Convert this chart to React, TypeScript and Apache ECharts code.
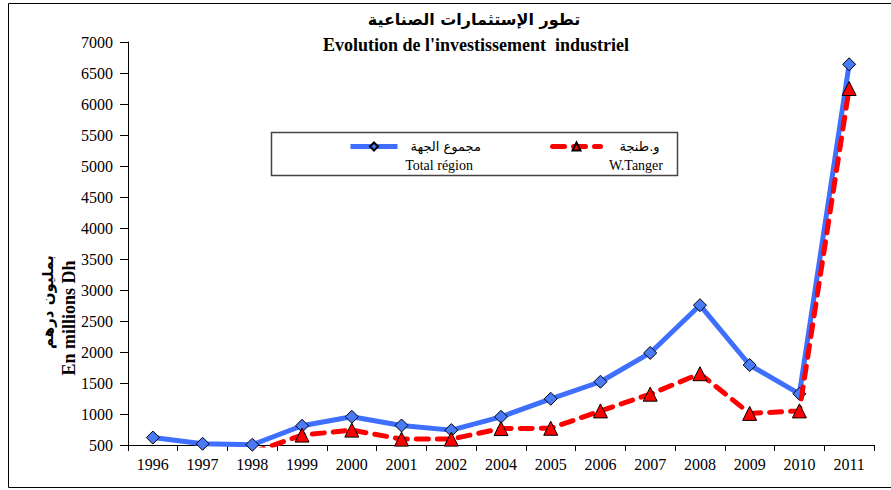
import React, { useEffect, useRef } from "react";
import * as echarts from "echarts";

const categories = ["1996", "1997", "1998", "1999", "2000", "2001", "2002", "2004", "2005", "2006", "2007", "2008", "2009", "2010", "2011"];
const totalRegion = [620, 520, 505, 810, 955, 815, 740, 955, 1245, 1520, 1985, 2755, 1790, 1325, 6640];
const wTanger = [null, null, 380, 660, 740, 595, 595, 765, 770, 1050, 1320, 1650, 1010, 1050, 6250];
const seriesNamesAr = ["مجموع الجهة", "و.طنجة"];
const seriesNamesFr = ["Total région", "W.Tanger"];
const titleAr = "تطور الإستثمارات الصناعية";
const titleFr = "Evolution de l'investissement  industriel";
const yNameAr = "بمليون درهم";
const yNameFr = "En millions Dh";

const BLUE = "#3F6FFF";
const RED = "#FF0000";
const SERIF = "'Liberation Serif', 'DejaVu Serif', serif";
const ARABIC = "'DejaVu Sans', 'Noto Sans', sans-serif";

export default function App() {
  const ref = useRef<HTMLDivElement>(null);
  useEffect(() => {
    document.body.style.margin = "0";
    const chart = echarts.init(ref.current!, null, { renderer: "svg" });
    const option: any = {
      animation: false,
      backgroundColor: "#ffffff",
      grid: { left: 128, right: 17, top: 42, bottom: 45, containLabel: false },
      xAxis: {
        type: "category",
        data: categories,
        boundaryGap: true,
        axisLine: { lineStyle: { color: "#000", width: 1 } },
        axisTick: { show: true, length: 6, lineStyle: { color: "#000" } },
        axisLabel: { color: "#000", fontSize: 16, fontFamily: SERIF, margin: 11 },
        splitLine: { show: false },
      },
      yAxis: {
        type: "value",
        min: 500,
        max: 7000,
        interval: 500,
        axisLine: { show: true, lineStyle: { color: "#000", width: 1 } },
        axisTick: { show: true, length: 8, lineStyle: { color: "#000" } },
        axisLabel: { color: "#000", fontSize: 16, fontFamily: SERIF, margin: 15, formatter: (v: number) => String(v) },
        splitLine: { show: false },
      },
      legend: [
        {
          data: [seriesNamesAr[0]],
          left: 348,
          top: 140,
          itemWidth: 47,
          itemHeight: 10,
          padding: 0,
          lineStyle: { width: 5 },
          textStyle: { fontSize: 13, fontFamily: ARABIC, color: "#000", padding: [0, 0, 0, 8] },
        },
        {
          data: [seriesNamesAr[1]],
          left: 550,
          top: 140,
          itemWidth: 48,
          itemHeight: 10,
          padding: 0,
          lineStyle: { width: 5 },
          textStyle: { fontSize: 13, fontFamily: ARABIC, color: "#000", padding: [0, 0, 0, 14] },
        },
      ],
      graphic: [
        {
          type: "rect",
          silent: true,
          shape: { x: 8.5, y: 3.5, width: 900, height: 484 },
          style: { fill: "none", stroke: "#000", lineWidth: 1 },
          z: -10,
        },
        {
          type: "rect",
          silent: true,
          shape: { x: 271.5, y: 132.5, width: 406, height: 43 },
          style: { fill: "#fff", stroke: "#444", lineWidth: 1.5 },
          z: -5,
        },
        {
          type: "text",
          x: 473,
          y: 165,
          style: { text: seriesNamesFr[0], fill: "#000", fontSize: 14, fontFamily: SERIF, textAlign: "right", textVerticalAlign: "middle" },
        },
        {
          type: "text",
          x: 663,
          y: 165,
          style: { text: seriesNamesFr[1], fill: "#000", fontSize: 14, fontFamily: SERIF, textAlign: "right", textVerticalAlign: "middle" },
        },
        {
          type: "text",
          x: 474,
          y: 19,
          style: { text: titleAr, fill: "#000", fontSize: 16, fontWeight: "bold", fontFamily: ARABIC, textAlign: "center", textVerticalAlign: "middle" },
        },
        {
          type: "text",
          x: 476,
          y: 45,
          style: { text: titleFr, fill: "#000", fontSize: 18, fontWeight: "bold", fontFamily: SERIF, textAlign: "center", textVerticalAlign: "middle" },
        },
        {
          type: "text",
          x: 48,
          y: 302,
          rotation: Math.PI / 2,
          style: { text: yNameAr, fill: "#000", fontSize: 15, fontWeight: "bold", fontFamily: ARABIC, textAlign: "center", textVerticalAlign: "middle" },
        },
        {
          type: "text",
          x: 69,
          y: 318,
          rotation: Math.PI / 2,
          style: { text: yNameFr, fill: "#000", fontSize: 18, fontWeight: "bold", fontFamily: SERIF, textAlign: "center", textVerticalAlign: "middle" },
        },
      ],
      series: [
        {
          name: seriesNamesAr[0],
          type: "line",
          data: totalRegion,
          clip: true,
          symbol: "diamond",
          symbolSize: 13,
          showAllSymbol: true,
          lineStyle: { color: BLUE, width: 5 },
          itemStyle: { color: "#4A7BF7", borderColor: "#000", borderWidth: 1 },
          z: 2,
        },
        {
          name: seriesNamesAr[1],
          type: "line",
          data: wTanger,
          clip: true,
          connectNulls: false,
          symbol: "triangle",
          symbolSize: 14,
          showAllSymbol: true,
          lineStyle: { color: RED, width: 5, type: [12, 9], cap: "round" },
          itemStyle: { color: RED, borderColor: "#000", borderWidth: 1 },
          z: 3,
        },
      ],
    };
    chart.setOption(option);
    return () => chart.dispose();
  }, []);
  return <div ref={ref} style={{ width: 891, height: 490 }} />;
}
